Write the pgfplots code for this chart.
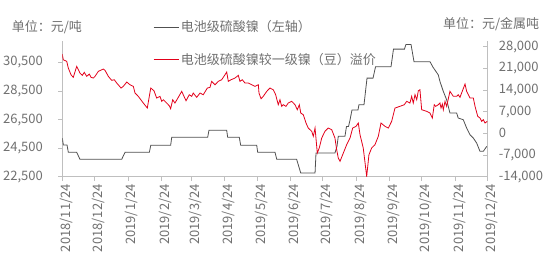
\documentclass[border=0pt]{standalone}
\usepackage{fontspec}
\setmainfont{Noto Sans CJK SC}
\usepackage{pgfplots}
\pgfplotsset{compat=1.18}
\definecolor{sgray}{RGB}{80,80,80}
\definecolor{lblgray}{RGB}{112,112,112}
\definecolor{axgray}{RGB}{191,191,191}
\definecolor{sred}{RGB}{226,0,26}
\begin{document}
\begin{tikzpicture}[font=\fontsize{13bp}{15bp}\selectfont]
\path[use as bounding box] (0,0) rectangle (552bp,276bp);
\pgfplotsset{
 base/.style={scale only axis, width=425bp, height=135.7bp,
   at={(62.3bp,99.3bp)}, anchor=south west, xmin=0, xmax=395,
   tick style={axgray, line width=0.75bp},
   tick label style={font=\fontsize{13bp}{15bp}\selectfont, text=lblgray},
   /pgf/number format/assume math mode=true,
   /pgf/number format/1000 sep={,},
   scaled y ticks=false,
   axis line style={axgray, line width=0.75bp},
   major tick length=4bp},
}
\begin{axis}[base, ymin=22500, ymax=32000, ytick={22500,24500,...,30500},
  axis y line*=left, axis x line*=bottom, tick align=outside,
  xtick={0,30,61,92,120,151,181,212,242,273,304,334,365,395},
  xticklabels={2018/11/24,2018/12/24,2019/1/24,2019/2/24,2019/3/24,2019/4/24,2019/5/24,2019/6/24,2019/7/24,2019/8/24,2019/9/24,2019/10/24,2019/11/24,2019/12/24},
  xticklabel style={rotate=90, anchor=east, yshift=-4bp},
  yticklabel style={xshift=-12bp}]
\addplot[sgray, line width=0.8bp] coordinates {
(0,25206) (1,24717) (4.4,24717) (5.6,24206) (13.4,24206) (16.4,23717) (55.2,23717) (58.3,24206) (80.9,24206) (82.2,24696) (100.7,24696) (101.7,25255) (135.1,25255) (136.3,25745) (152.8,25745) (153.7,25255) (164.5,25255) (165.8,24696) (180.7,24696) (181.6,24206) (197.7,24206) (199.3,23717) (217.8,23717) (221.6,22759) (234.9,22759) (235.8,24157) (253.4,24157) (255.3,24626) (256.5,25325) (262.7,25325) (264.1,26010) (266,26010) (267.4,26465) (269.2,27164) (274.8,27164) (275.7,27535) (280.4,27535) (283.2,29402) (288.8,29402) (291.1,30192) (305.5,30192) (307.8,31430) (318,31430) (319.4,31759) (324.1,31759) (326.9,30542) (341.8,30542) (344.5,30171) (349.4,29633) (351,29171) (354.1,28472) (357.2,27885) (360.3,26955) (366.5,26955) (368,26605) (372.7,26486) (375.8,25906) (378.9,25437) (382,25206) (385.1,24857) (388.2,24276) (391.3,24276) (394.5,24626)
};
\end{axis}
\begin{axis}[base, ymin=-14000, ymax=29800, ytick={-14000,-7000,...,28000},
  axis y line*=right, axis x line=none, tick align=inside, xtick=\empty,
  yticklabel style={xshift=8bp},
  legend style={at={(axis description cs:0.2134,0.983)}, anchor=west, draw=none, fill=none,
    font=\fontsize{13bp}{15bp}\selectfont, text=lblgray, row sep=16bp, inner sep=0pt},
  legend cell align=left,
  legend image code/.code={\draw[#1] (0bp,0bp) -- (25bp,0bp);}]
\addlegendimage{sgray, line width=0.8bp}
\addlegendentry{电池级硫酸镍（左轴）}
\addlegendimage{sred, line width=0.8bp}
\addlegendentry{电池级硫酸镍较一级镍（豆）溢价}
\addplot[sred, line width=0.8bp, forget plot] coordinates {
(0,25583) (0.9,23744) (4.1,23228) (5.6,21067) (8.1,18905) (10.2,18066) (13.4,21615) (16.4,19454) (18.6,18712) (20.4,19679) (22.7,18389) (25.1,19131) (26.7,18066) (28.8,17841) (30.4,18389) (33.5,20002) (38.1,20744) (39.7,20325) (42.8,18389) (45.9,17099) (48.3,17292) (50.6,16228) (54.6,14615) (56.7,15163) (59.9,16550) (62.9,15679) (66,15163) (67.6,13002) (70.6,11937) (75.3,9776) (79,8163) (82.2,14615) (85.2,13744) (87.7,11389) (90.8,11937) (92.4,10324) (93.9,10840) (97,9776) (99.4,8905) (100.7,7937) (102.6,10840) (104.7,9776) (107.8,11614) (111,13550) (113.1,11937) (115,10518) (118,12453) (120.3,11937) (121.7,13002) (124.9,11614) (128,13002) (131,12453) (134.8,14615) (137.3,14840) (138.8,16776) (141.9,15679) (145,16776) (148.1,17292) (151.2,18905) (152.8,19776) (154.3,16776) (156.8,17292) (160.5,17841) (163.6,18712) (165.1,16776) (167.3,17292) (169.8,16228) (172.9,16228) (176,15679) (179.1,15163) (182.2,15679) (182.8,13002) (184.7,11163) (186.8,11937) (190,13550) (193,14615) (196.1,14066) (198.3,12453) (200.7,9227) (202.3,10840) (203.9,8711) (205.4,9227) (207.9,8711) (210,9776) (213.2,10324) (216.3,9227) (218.4,7614) (220.3,9227) (221.6,6550) (224,6001) (226.5,3324) (228.6,1711) (231.8,646) (233.3,-967) (234.9,1711) (237,-6354) (238.8,-4741) (241.1,-1515) (244.1,646) (247.2,1711) (250.4,1162) (253.4,-1515) (255,-5290) (256.5,-7967) (258.1,-9032) (261.2,-6354) (264.3,-3677) (267.4,-1515) (269.9,1711) (273,2259) (275.1,3324) (276.7,-451) (279.7,-4741) (282.9,-13900) (285,-6903) (287.5,-4741) (290.6,-3677) (293.7,-967) (296.2,3324) (299.9,2259) (303,1711) (306.1,3872) (309.2,8163) (313.8,8711) (317.8,9227) (320.1,10324) (323.1,9776) (324.7,11937) (326.2,9776) (327.8,12453) (329.4,10840) (330.9,13744) (332.4,14066) (334,7614) (338.7,7098) (341.7,6550) (343.9,4937) (345.7,9227) (347,8711) (349.4,9227) (351,9776) (352,8163) (353.2,9453) (354.1,7614) (355.7,10324) (357.2,8711) (360.3,13550) (363.4,11937) (366.5,11937) (368,12453) (369.6,11614) (371.7,13550) (374.3,15905) (375.8,13550) (378.9,11389) (382,11389) (383.6,8711) (386.1,5485) (388.2,4937) (389.8,3872) (391.3,4388) (392.9,3324) (395,3872)
};
\end{axis}
\node[anchor=base west, inner sep=0pt, text=lblgray] at (11.7bp,244.2bp) {单位：元/吨};
\node[anchor=base east, inner sep=0pt, text=lblgray] at (539.3bp,247bp) {单位：元/金属吨};
\end{tikzpicture}
\end{document}
